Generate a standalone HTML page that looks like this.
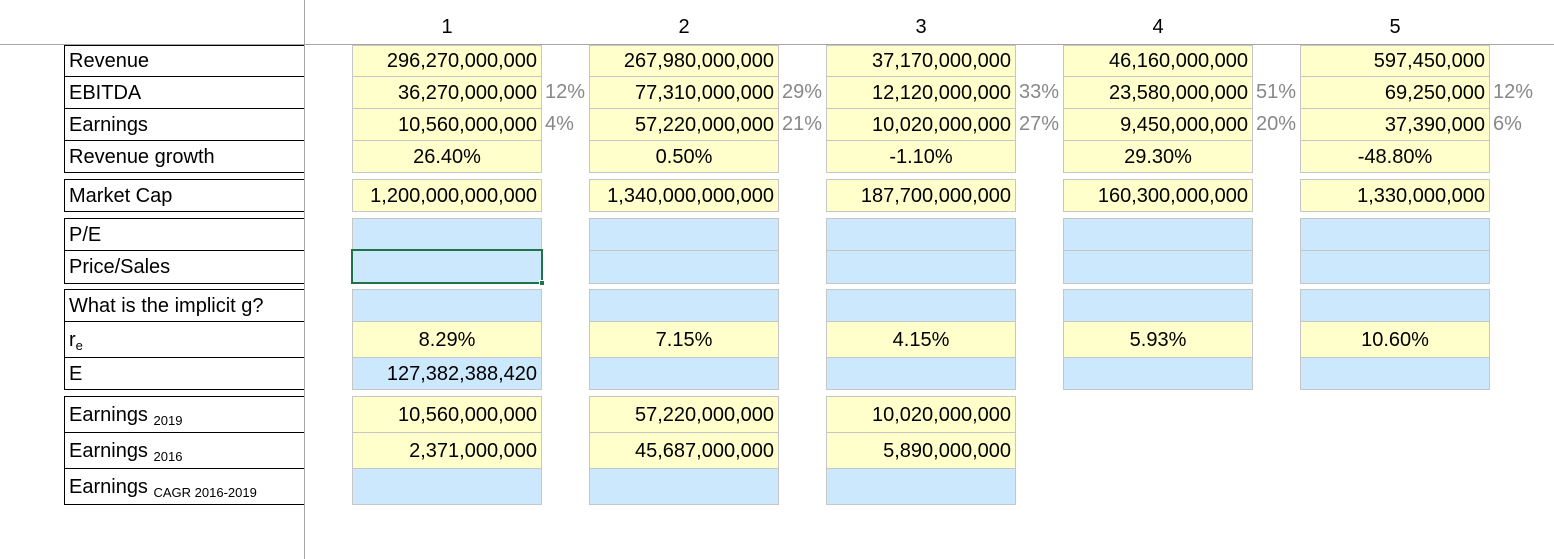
<!DOCTYPE html>
<html><head><meta charset="utf-8">
<style>
body{margin:0;width:1554px;height:559px;background:#fff;position:relative;overflow:hidden;font-family:"Liberation Sans",sans-serif;font-size:20px;color:#000}
.a{position:absolute;box-sizing:border-box;white-space:nowrap}
.c{line-height:30px;padding:0 4px}
.lab{border:1px solid #000;border-right:none;padding-left:4px}
.y{background:#ffffcc;border:1px solid #c6c6c6}
.b{background:#cce8fc;border:1px solid #c6c6c6}
.pct{color:#888;line-height:30px}
sub{font-size:13px;vertical-align:-4px}
</style></head><body>
<div class="a" style="left:0;top:44px;width:1554px;height:1px;background:#a6a6a6"></div>
<div class="a" style="left:304px;top:0;width:1px;height:559px;background:#a6a6a6"></div>
<div id="root"></div>
<script>
const colNums=["1","2","3","4","5"];
const revenue=["296,270,000,000","267,980,000,000","37,170,000,000","46,160,000,000","597,450,000"];
const ebitda=["36,270,000,000","77,310,000,000","12,120,000,000","23,580,000,000","69,250,000"];
const ebitdaPct=["12%","29%","33%","51%","12%"];
const earnings=["10,560,000,000","57,220,000,000","10,020,000,000","9,450,000,000","37,390,000"];
const earnPct=["4%","21%","27%","20%","6%"];
const revGrowth=["26.40%","0.50%","-1.10%","29.30%","-48.80%"];
const mcap=["1,200,000,000,000","1,340,000,000,000","187,700,000,000","160,300,000,000","1,330,000,000"];
const re=["8.29%","7.15%","4.15%","5.93%","10.60%"];
const eVal=["127,382,388,420","","","",""];
const earn2019=["10,560,000,000","57,220,000,000","10,020,000,000"];
const earn2016=["2,371,000,000","45,687,000,000","5,890,000,000"];
// rows: label, top, bottom, fill, values, align, pct
const rows=[
["Revenue",45,76,"y",revenue,"right",null],
["EBITDA",76,108,"y",ebitda,"right",ebitdaPct],
["Earnings",108,140,"y",earnings,"right",earnPct],
["Revenue growth",140,172,"y",revGrowth,"center",null],
["Market Cap",179,211,"y",mcap,"right",null],
["P/E",218,250,"b",null,"right",null],
["Price/Sales",250,283,"b",null,"right",null],
["What is the implicit g?",289,321,"b",null,"right",null],
["r<sub>e</sub>",321,357,"y",re,"center",null],
["E",357,389,"b",eVal,"right",null],
["Earnings <sub>2019</sub>",396,432,"y",earn2019,"right",null],
["Earnings <sub>2016</sub>",432,468,"y",earn2016,"right",null],
["Earnings <sub>CAGR 2016-2019</sub>",468,504,"b",["","",""],"right",null]
];
const root=document.getElementById('root');
const colX=i=>352+i*237;
const colW=190;
colNums.forEach((n,i)=>{
 const d=document.createElement('div');
 d.className='a';
 
 
 d.style.cssText=`left:${colX(i)}px;top:14px;width:${colW}px;text-align:center;line-height:26px`;
 d.textContent=n;root.appendChild(d);
});
const groupBottom=[172,211,283,389,504];
rows.forEach((r,ri)=>{
 const [label,t,b,fill,vals,align,pct]=r;
 const L=document.createElement('div');
 L.className='a lab';
 
 
 const last=groupBottom.includes(b);
 L.style.cssText=`left:64px;top:${t}px;width:240px;height:${b-t+(last?1:0)}px;line-height:${b-t}px;${last?'':'border-bottom:none;'}`;
 L.innerHTML=label;root.appendChild(L);
 const n=vals?vals.length:5;
 for(let i=0;i<n;i++){
  const c=document.createElement('div');
  c.className='a c '+fill;
  
  
  c.style.cssText=`left:${colX(i)}px;top:${t}px;width:${colW}px;height:${b-t+1}px;line-height:${b-t}px;text-align:${align}`;
  c.textContent=vals?vals[i]:'';
  root.appendChild(c);
  if(pct){
   const p=document.createElement('div');
   p.className='a pct';
   
   
   p.style.cssText=`left:${colX(i)+colW+3}px;top:${t}px;line-height:${b-t}px`;
   p.textContent=pct[i];root.appendChild(p);
  }
 }
});
const sel=document.createElement('div');
sel.className='a';


sel.style.cssText='left:351px;top:249px;width:192px;height:35px;border:2px solid #217346';
root.appendChild(sel);
const h=document.createElement('div');
h.className='a';


h.style.cssText='left:539px;top:280px;width:6px;height:6px;background:#217346;border:1px solid #fff';
root.appendChild(h);
</script>
</body></html>
